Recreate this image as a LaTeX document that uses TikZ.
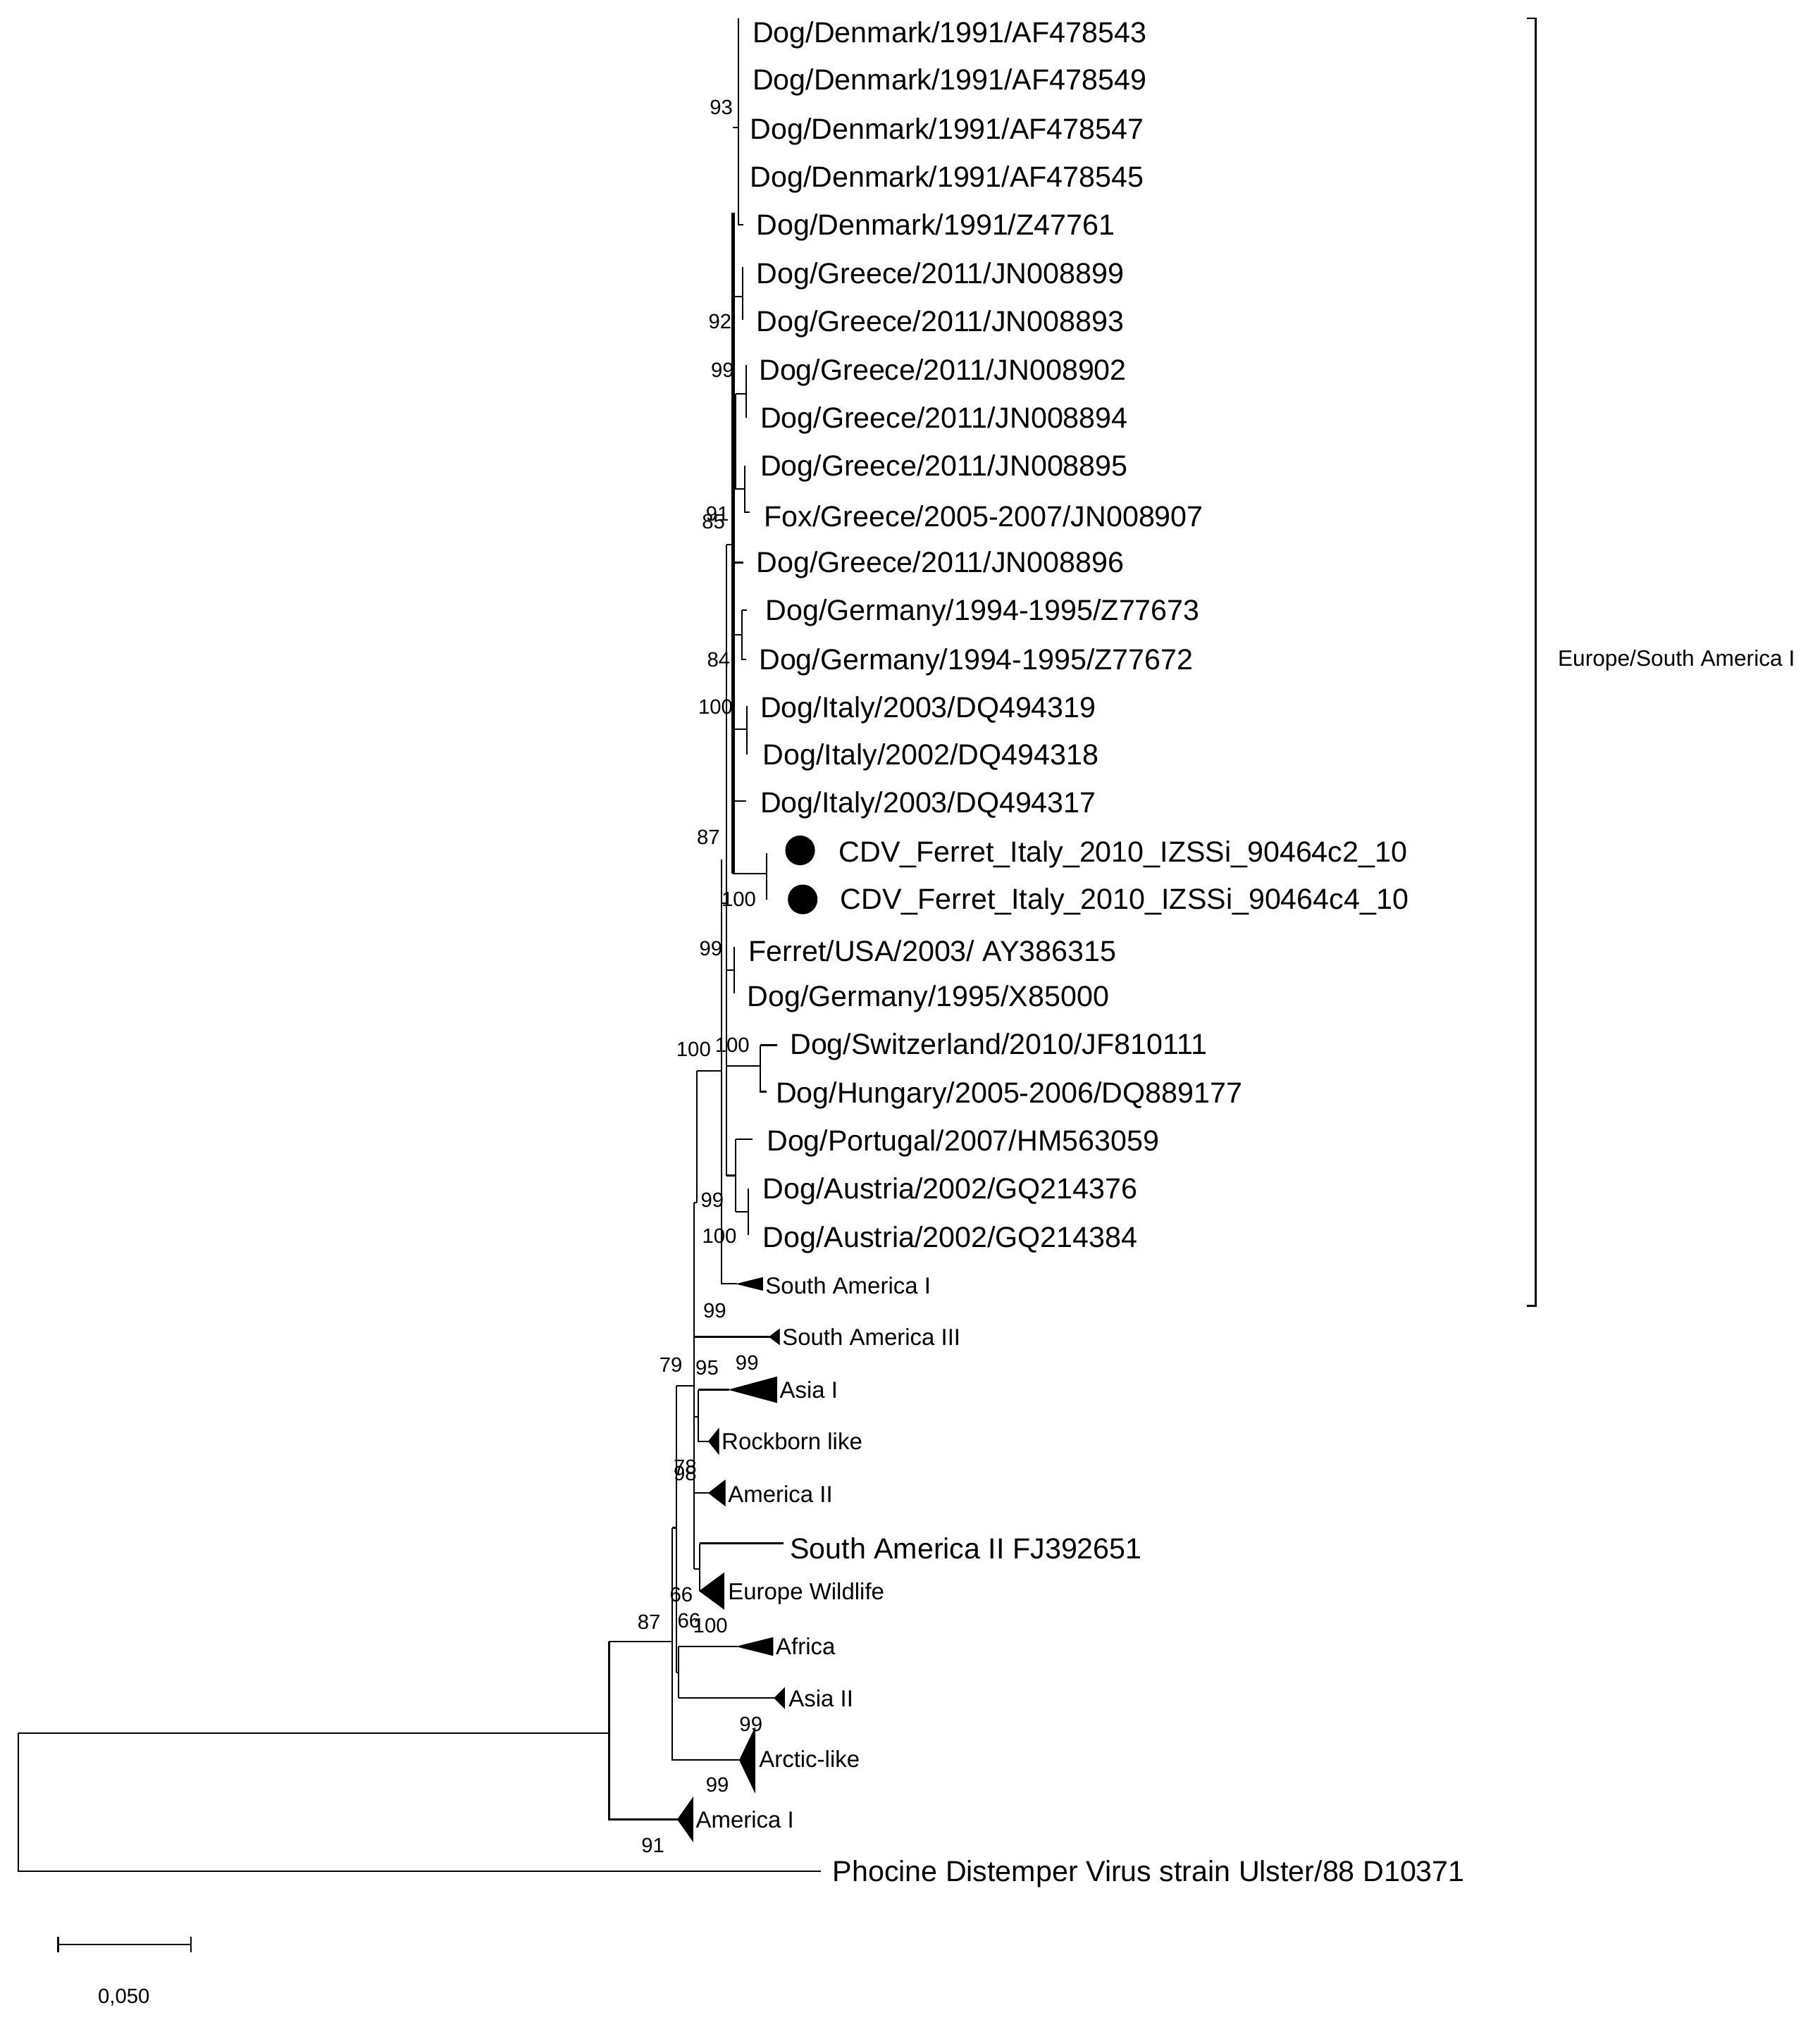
\documentclass[tikz,border=0pt]{standalone}
\usepackage{fontspec}
\setmainfont{Liberation Sans}
\begin{document}
\begin{tikzpicture}[x=1pt,y=-1pt,
  br/.style={line width=1.2pt},
  lf/.style={anchor=west,inner sep=0pt,yshift=-2pt,font=\fontsize{22.5}{24}\selectfont},
  sl/.style={anchor=west,inner sep=0pt,font=\fontsize{18}{19}\selectfont},
  bs/.style={anchor=east,inner sep=0pt,font=\fontsize{16}{18}\selectfont},
  tri/.style={fill=black,draw=black}]
\useasboundingbox (0,0) rectangle (1410,1567);
% leaf labels
\node[lf] (l1) at (583,25) {Dog/Denmark/1991/AF478543};
\node[lf] (l2) at (583,62) {Dog/Denmark/1991/AF478549};
\node[lf] (l3) at (581,100) {Dog/Denmark/1991/AF478547};
\node[lf] (l4) at (581,137) {Dog/Denmark/1991/AF478545};
\node[lf] (l5) at (586,174) {Dog/Denmark/1991/Z47761};
\node[lf] (l6) at (586,212) {Dog/Greece/2011/JN008899};
\node[lf] (l7) at (586,249) {Dog/Greece/2011/JN008893};
\node[lf] (l8) at (588,287) {Dog/Greece/2011/JN008902};
\node[lf] (l9) at (589,324) {Dog/Greece/2011/JN008894};
\node[lf] (l10) at (589,361) {Dog/Greece/2011/JN008895};
\node[lf] (l11) at (592,398) {Fox/Greece/2005-2007/JN008907};
\node[lf] (l12) at (586,436) {Dog/Greece/2011/JN008896};
\node[lf] (l13) at (593,473) {Dog/Germany/1994-1995/Z77673};
\node[lf] (l14) at (588,511) {Dog/Germany/1994-1995/Z77672};
\node[lf] (l15) at (589,548) {Dog/Italy/2003/DQ494319};
\node[lf] (l16) at (591,585) {Dog/Italy/2002/DQ494318};
\node[lf] (l17) at (589,622) {Dog/Italy/2003/DQ494317};
\node[lf] (l18) at (650,660) {CDV\_Ferret\_Italy\_2010\_IZSSi\_90464c2\_10};
\node[lf] (l19) at (651,697) {CDV\_Ferret\_Italy\_2010\_IZSSi\_90464c4\_10};
\node[lf] (l20) at (580,735) {Ferret/USA/2003/ AY386315};
\node[lf] (l21) at (579,772) {Dog/Germany/1995/X85000};
\node[lf] (l22) at (612,809) {Dog/Switzerland/2010/JF810111};
\node[lf] (l23) at (601,847) {Dog/Hungary/2005-2006/DQ889177};
\node[lf] (l24) at (594,884) {Dog/Portugal/2007/HM563059};
\node[lf] (l25) at (591,921) {Dog/Austria/2002/GQ214376};
\node[lf] (l26) at (591,959) {Dog/Austria/2002/GQ214384};
\node[sl] (c1) at (593,996) {South America I};
\node[sl] (c2) at (606,1036) {South America III};
\node[sl] (c3) at (604,1077) {Asia I};
\node[sl] (c4) at (559,1117) {Rockborn like};
\node[sl] (c5) at (564,1158) {America II};
\node[lf] (c6) at (612,1198) {South America II FJ392651};
\node[sl] (c7) at (564,1235) {Europe Wildlife};
\node[sl] (c8) at (601,1276) {Africa};
\node[sl] (c9) at (611,1316) {Asia II};
\node[sl] (c10) at (588,1363) {Arctic-like};
\node[sl] (c11) at (539,1410) {America I};
\node[lf] (out) at (645,1450) {Phocine Distemper Virus strain Ulster/88 D10371};
\fill (620,659) circle (11.5);
\fill (622,697) circle (11.5);
% Denmark clade
\draw[br] (572,14) -- (572,174) -- (576,174);
\draw[br] (568,99) -- (572,99);
% Greece 899/893
\draw[br] (575.6,207) -- (575.6,248);
\draw[br] (568,230) -- (575.6,230);
% 99 clade
\draw[br] (570,305) -- (570,379);
\draw[br] (578,283) -- (578,324);
\draw[br] (570,305) -- (578,305);
\draw[br] (577,361) -- (577,397) -- (581,397);
\draw[br] (568,379) -- (577,379);
\draw[br] (568,342) -- (570,342);
% Greece 896, Germany
\draw[br] (568,436) -- (576,436);
\draw[br] (575,473) -- (575,511) -- (578,511);
\draw[br] (575,473) -- (579,473);
\draw[br] (568,492) -- (575,492);
% Italy
\draw[br] (578.7,547) -- (578.7,585);
\draw[br] (568,565) -- (578.7,565);
\draw[br] (568,621) -- (578,621);
% Ferret Italy
\draw[br] (594,661) -- (594,697);
\draw[br] (568,677) -- (594,677);
% main subtrunk
\draw[line width=2.4pt] (568,165) -- (568,677);
\draw[br] (563,422) -- (563,911);
\draw[br] (563,422) -- (568,422);
% Ferret USA / Dog Germany
\draw[br] (569,734) -- (569,770);
\draw[br] (563,752) -- (569,752);
% Switzerland/Hungary
\draw[br] (589,810) -- (589,846) -- (594,846);
\draw[br] (589,810) -- (602,810);
\draw[br] (563,826) -- (589,826);
% Portugal/Austria
\draw[br] (570,883) -- (570,939);
\draw[br] (570,883) -- (583,883);
\draw[br] (580,921) -- (580,957);
\draw[br] (570,939) -- (580,939);
\draw[br] (563,911) -- (570,911);
% South America I
\draw[br] (559,666) -- (559,995) -- (571,995);
\draw[br] (559,700) -- (563,700);
\draw[tri] (571,995) -- (591,990) -- (591,1000) -- cycle;
% outer
\draw[br] (540,830) -- (559,830);
\draw[br] (540,830) -- (540,932);
\draw[br] (538,932) -- (540,932);
\draw[br] (538,932) -- (538,1216);
\draw[br] (538,1036) -- (596,1036);
\draw[tri] (596,1036) -- (604,1030) -- (604,1042) -- cycle;
% Asia I / Rockborn
\draw[br] (541,1077) -- (541,1117) -- (549,1117);
\draw[br] (538,1098) -- (541,1098);
\draw[br] (541,1077) -- (565,1077);
\draw[tri] (565,1077) -- (602,1067) -- (602,1087) -- cycle;
\draw[tri] (549,1117) -- (557,1107) -- (557,1127) -- cycle;
% America II
\draw[br] (538,1157) -- (549,1157);
\draw[tri] (549,1157) -- (562,1147) -- (562,1167) -- cycle;
% SA II / Europe Wildlife
\draw[br] (542,1196) -- (542,1233);
\draw[br] (542,1196) -- (607,1196);
\draw[br] (538,1216) -- (542,1216);
\draw[tri] (542,1233) -- (561,1219) -- (561,1247) -- cycle;
% 524 node
\draw[br] (524,1074) -- (538,1074);
\draw[br] (524,1074) -- (524,1296);
\draw[br] (526,1276) -- (526,1316);
\draw[br] (524,1296) -- (526,1296);
\draw[br] (526,1276) -- (571,1276);
\draw[tri] (571,1276) -- (599,1269) -- (599,1283) -- cycle;
\draw[br] (526,1316) -- (600,1316);
\draw[tri] (600,1316) -- (608,1308) -- (608,1324) -- cycle;
% 521 node
\draw[br] (521,1184) -- (524,1184);
\draw[br] (521,1184) -- (521,1364) -- (573,1364);
\draw[tri] (573,1364) -- (585,1339) -- (585,1389) -- cycle;
% 472 node
\draw[br] (472,1272) -- (521,1272);
\draw[br] (472,1272) -- (472,1410) -- (525,1410);
\draw[tri] (525,1410) -- (537,1393) -- (537,1427) -- cycle;
% root
\draw[br] (14,1343) -- (472,1343);
\draw[br] (14,1343) -- (14,1450) -- (636,1450);
% bootstrap
\node[bs] at (568,83) {93};
\node[bs] at (567,249) {92};
\node[bs] at (569,287) {99};
\node[bs] at (565,398) {91};
\node[bs] at (562,404) {85};
\node[bs] at (566,511) {84};
\node[bs] at (568,548) {100};
\node[bs] at (558,649) {87};
\node[bs] at (586,697) {100};
\node[bs] at (560,735) {99};
\node[bs] at (551,813) {100};
\node[bs] at (581,810) {100};
\node[bs] at (561,930) {99};
\node[bs] at (571,958) {100};
\node[bs] at (563,1016) {99};
\node[bs] at (529,1058) {79};
\node[bs] at (557,1060) {95};
\node[bs] at (588,1056) {99};
\node[bs] at (540,1137) {78};
\node[bs] at (540,1142) {98};
\node[bs] at (537,1236) {66};
\node[bs] at (543,1256) {66};
\node[bs] at (564,1260) {100};
\node[bs] at (512,1257) {87};
\node[bs] at (591,1336) {99};
\node[bs] at (565,1383) {99};
\node[bs] at (515,1430) {91};
% bracket
\draw[line width=1.2pt] (1183,14) -- (1190,14) -- (1190,1012) -- (1183,1012);
\node[sl,font=\fontsize{17.3}{18}\selectfont] (grp) at (1207,512) {Europe/South America I};
% scale bar
\draw[line width=1.2pt] (45,1507) -- (148,1507);
\draw[line width=1.2pt] (45,1501) -- (45,1513);
\draw[line width=1.2pt] (148,1501) -- (148,1513);
\node[font=\fontsize{16}{18}\selectfont] (sc) at (96,1548) {0,050};
\end{tikzpicture}
\end{document}
